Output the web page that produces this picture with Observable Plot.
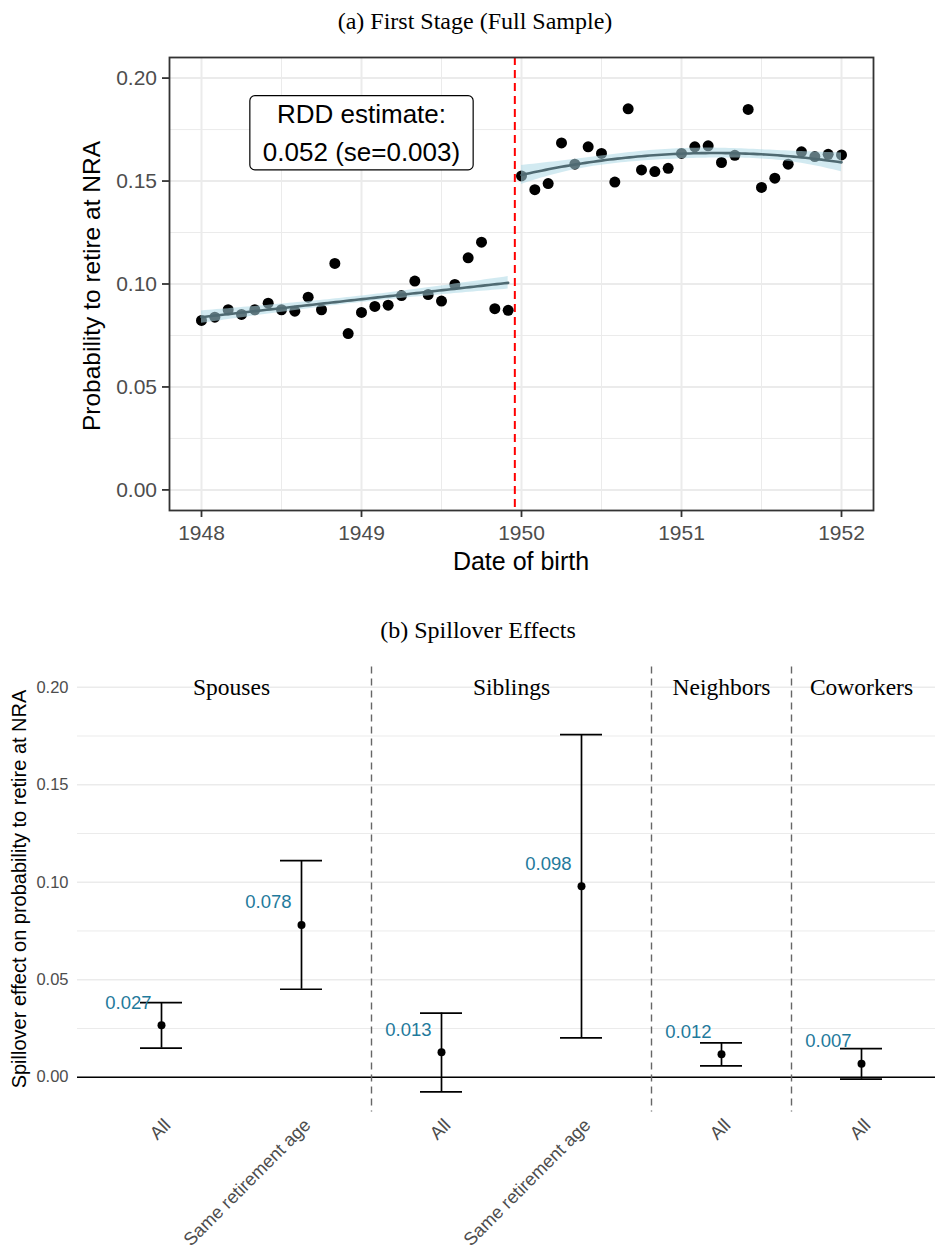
<!DOCTYPE html>
<html>
<head>
<meta charset="utf-8">
<script src="https://cdn.jsdelivr.net/npm/d3@7"></script>
<script src="https://cdn.jsdelivr.net/npm/@observablehq/plot@0.6"></script>
<style>
  body { margin:0; background:#fff; width:935px; height:1255px; position:relative; overflow:hidden;
         font-family:"Liberation Sans", Arial, sans-serif; }
  .abs { position:absolute; white-space:nowrap; line-height:1; }
  .serif { font-family:"Liberation Serif", "Times New Roman", serif; color:#000; }
</style>
</head>
<body>
<div class="abs serif" style="left:475px;top:21px;transform:translate(-50%,-50%);font-size:24px;">(a) First Stage (Full Sample)</div>
<div id="top" class="abs" style="left:0;top:40px;"></div>
<div class="abs" style="left:92px;top:286px;transform:translate(-50%,-50%) rotate(-90deg);font-size:24.5px;color:#000;">Probability to retire at NRA</div>
<div class="abs" style="left:521px;top:561px;transform:translate(-50%,-50%);font-size:25px;color:#000;">Date of birth</div>
<div class="abs serif" style="left:478px;top:630px;transform:translate(-50%,-50%);font-size:24px;">(b) Spillover Effects</div>
<div id="bottom" class="abs" style="left:0;top:645px;"></div>
<div class="abs" style="left:19px;top:889px;transform:translate(-50%,-50%) rotate(-90deg);font-size:20px;color:#000;">Spillover effect on probability to retire at NRA</div>

<script>
// ---------------- Panel (a) data ----------------
const preStartYear = 1948;          // first monthly bin before cutoff
const postStartYear = 1950;         // first monthly bin after cutoff
const cutoffYear = 1950 - 1/24;     // dashed red line (between Dec 1949 and Jan 1950)
const preValues = [0.0823,0.0839,0.0875,0.0852,0.0875,0.0907,0.0875,0.0868,0.0936,0.0875,0.1100,0.0759,
                   0.0862,0.0891,0.0897,0.0944,0.1014,0.0949,0.0917,0.0998,0.1127,0.1203,0.0880,0.0872];
const postValues = [0.1525,0.1458,0.1488,0.1685,0.1582,0.1666,0.1634,0.1495,0.1851,0.1554,0.1546,0.1562,
                    0.1634,0.1666,0.1671,0.1590,0.1625,0.1848,0.1469,0.1514,0.1582,0.1642,0.1619,0.1630,0.1627];
const yearTicks = [1948,1949,1950,1951,1952];
const yearMinor = [1948.5,1949.5,1950.5,1951.5];
const probTicks = [0,0.05,0.10,0.15,0.20];
const probMinor = [0.025,0.075,0.125,0.175];
const rddText = ["RDD estimate:", "0.052 (se=0.003)"];
const rddAnchor = {x:1949, y:0.175};
const bandMultiplier = 0.85;  // band half-width in s.e. units (fit used micro data)

// ---------------- Panel (b) data ----------------
const groups    = ["Spouses","Spouses","Siblings","Siblings","Neighbors","Coworkers"];
const subgroups = ["All","Same retirement age","All","Same retirement age","All","All"];
const estimates = [0.0266,0.0781,0.0128,0.0980,0.0118,0.0069];
const lowerCI   = [0.0149,0.0451,-0.0075,0.0202,0.0058,-0.0010];
const upperCI   = [0.0383,0.1111,0.0329,0.1757,0.0176,0.0147];
const estLabels = ["0.027","0.078","0.013","0.098","0.012","0.007"];
const spillTicks = [0,0.05,0.10,0.15,0.20];
const spillMinor = [0.025,0.075,0.125,0.175];

// ---------------- helpers: polynomial least squares with CI ----------------
function invert(M) {
  const n = M.length;
  const A = M.map((r,i) => r.concat(d3.range(n).map(j => i===j?1:0)));
  for (let c=0;c<n;c++){
    let p=c; for(let r=c+1;r<n;r++) if(Math.abs(A[r][c])>Math.abs(A[p][c])) p=r;
    [A[c],A[p]]=[A[p],A[c]];
    const v=A[c][c]; for(let j=0;j<2*n;j++) A[c][j]/=v;
    for(let r=0;r<n;r++) if(r!==c){ const f=A[r][c]; for(let j=0;j<2*n;j++) A[r][j]-=f*A[c][j]; }
  }
  return A.map(r => r.slice(n));
}
function polyFit(xs, ys, deg, tcrit) {
  const n = xs.length, p = deg+1, xm = d3.mean(xs);
  const basis = x => d3.range(p).map(k => Math.pow(x-xm,k));
  const X = xs.map(basis);
  const XtX = d3.range(p).map(i => d3.range(p).map(j => d3.sum(X, r => r[i]*r[j])));
  const Xty = d3.range(p).map(i => d3.sum(X, (r,idx) => r[i]*ys[idx]));
  const inv = invert(XtX);
  const beta = inv.map(row => d3.sum(row, (v,j) => v*Xty[j]));
  const s2 = d3.sum(X, (r,i) => { const e = ys[i]-d3.sum(r,(v,k)=>v*beta[k]); return e*e; })/(n-p);
  return x => {
    const v = basis(x);
    const yhat = d3.sum(v,(a,k)=>a*beta[k]);
    let q=0; for(let i=0;i<p;i++) for(let j=0;j<p;j++) q+=v[i]*inv[i][j]*v[j];
    const se = Math.sqrt(s2*q);
    return {x, yhat, lo:yhat-tcrit*se, hi:yhat+tcrit*se};
  };
}

const prePts = preValues.map((v,i) => ({date: preStartYear + i/12, value: v}));
const postPts = postValues.map((v,i) => ({date: postStartYear + i/12, value: v}));
const allPts = prePts.concat(postPts);
const fPre = polyFit(prePts.map(d=>d.date), preValues, 1, bandMultiplier);
const fPost = polyFit(postPts.map(d=>d.date), postValues, 2, bandMultiplier);
const sampleCurve = (pts, f) => { const a=pts[0].date, b=pts[pts.length-1].date; return d3.range(81).map(k => f(a+(b-a)*k/80)); };
const curvePre = sampleCurve(prePts, fPre);
const curvePost = sampleCurve(postPts, fPost);

const grid = {stroke:"#ebebeb", strokeOpacity:1};
const fitBand = {x:"x", y1:"lo", y2:"hi", fill:"#add8e6", fillOpacity:0.55};
const fitLine = {x:"x", y:"yhat", stroke:"#4f6a72", strokeWidth:2.6};

const topPlot = Plot.plot({
  width:935, height:550,
  marginTop:17, marginBottom:80, marginLeft:169, marginRight:62,
  x:{domain:[1947.8,1952.2]},
  y:{domain:[-0.01,0.21]},
  style:{fontFamily:"'Liberation Sans', Arial, sans-serif", background:"white"},
  marks:[
    Plot.gridX(yearMinor, {...grid, strokeWidth:1}),
    Plot.gridY(probMinor, {...grid, strokeWidth:1}),
    Plot.gridX(yearTicks, {...grid, strokeWidth:2}),
    Plot.gridY(probTicks, {...grid, strokeWidth:2}),
    Plot.ruleX([cutoffYear], {stroke:"red", strokeWidth:2, strokeDasharray:"8,5"}),
    Plot.dot(allPts, {x:"date", y:"value", r:5.5, fill:"black", stroke:"none"}),
    Plot.areaY(curvePre, fitBand),
    Plot.areaY(curvePost, fitBand),
    Plot.line(curvePre, fitLine),
    Plot.line(curvePost, fitLine),
    Plot.text([rddAnchor], {x:"x", y:"y", text:() => rddText.join("\n"), fontSize:26, lineHeight:1.47, fill:"black"}),
    Plot.frame({stroke:"#333", strokeWidth:1.8}),
    Plot.axisX(yearTicks, {tickSize:7, tickPadding:8, fontSize:21, tickFormat:d=>String(d), label:null, stroke:"#333", strokeWidth:1.8, fill:"#4d4d4d"}),
    Plot.axisY(probTicks, {tickSize:7, tickPadding:5.5, fontSize:21, tickFormat:d3.format(".2f"), label:null, stroke:"#333", strokeWidth:1.8, fill:"#4d4d4d"})
  ]
});
document.getElementById("top").appendChild(topPlot);

// rounded box behind the RDD label (sized from the rendered text)
(function(){
  const t = Array.from(topPlot.querySelectorAll("text")).find(el => el.textContent.indexOf(rddText[0]) >= 0);
  if (!t) return;
  const bb = t.getBBox();
  const r = document.createElementNS("http://www.w3.org/2000/svg","rect");
  r.setAttribute("x", bb.x-13); r.setAttribute("y", bb.y-3);
  r.setAttribute("width", bb.width+26); r.setAttribute("height", bb.height+6);
  r.setAttribute("rx", 5); r.setAttribute("ry", 5);
  r.setAttribute("fill","white"); r.setAttribute("stroke","black"); r.setAttribute("stroke-width",1.2);
  const tr = t.getAttribute("transform"); if (tr) r.setAttribute("transform", tr);
  t.parentNode.insertBefore(r, t);
})();

// ---------------- Panel (b) ----------------
const rows = groups.map((g,i) => ({pos:i+1, group:g, sub:subgroups[i], est:estimates[i], lo:lowerCI[i], hi:upperCI[i], label:estLabels[i]}));
const groupNames = Array.from(new Set(groups));
const facetRows = groupNames.map(g => { const r = rows.filter(d=>d.group===g); return {group:g, center:d3.mean(r,d=>d.pos), first:d3.min(r,d=>d.pos)}; });
const separators = facetRows.slice(1).map(d => d.first - 0.5);
const capHalf = 0.15;
const labelNudge = 0.0115;

const bottomPlot = Plot.plot({
  width:935, height:610,
  marginTop:21.5, marginBottom:143.4, marginLeft:77, marginRight:0,
  x:{domain:[0.4,6.6], range:[77,945], axis:null},
  y:{domain:[-0.0179,0.2104]},
  style:{fontFamily:"'Liberation Sans', Arial, sans-serif", background:"white"},
  marks:[
    Plot.gridY(spillMinor, {...grid, strokeWidth:1}),
    Plot.gridY(spillTicks, {...grid, strokeWidth:1.5}),
    Plot.ruleY([0], {stroke:"black", strokeWidth:1.4}),
    Plot.ruleX(separators, {stroke:"#666", strokeWidth:1.4, strokeDasharray:"7,5"}),
    Plot.ruleX(rows, {x:"pos", y1:"lo", y2:"hi", stroke:"black", strokeWidth:1.7}),
    Plot.ruleY(rows, {y:"lo", x1:d=>d.pos-capHalf, x2:d=>d.pos+capHalf, stroke:"black", strokeWidth:1.7}),
    Plot.ruleY(rows, {y:"hi", x1:d=>d.pos-capHalf, x2:d=>d.pos+capHalf, stroke:"black", strokeWidth:1.7}),
    Plot.dot(rows, {x:"pos", y:"est", r:4, fill:"black", stroke:"none"}),
    Plot.text(rows, {x:"pos", y:d=>d.est+labelNudge, text:"label", dx:-10, textAnchor:"end", fill:"#1f7a9c", fontSize:18.5}),
    Plot.text(facetRows, {x:"center", y:()=>0.20, text:"group", fontFamily:"'Liberation Serif', 'Times New Roman', serif", fontSize:23.5, fill:"black"}),
    Plot.text(rows, {x:"pos", text:"sub", frameAnchor:"bottom", rotate:-45, textAnchor:"end", lineAnchor:"top", dx:1, dy:5, fontSize:18.3, fill:"#4d4d4d"}),
    Plot.axisY(spillTicks, {tickSize:0, tickPadding:9, fontSize:16.5, tickFormat:d3.format(".2f"), label:null, fill:"#4d4d4d"})
  ]
});
document.getElementById("bottom").appendChild(bottomPlot);
</script>
</body>
</html>
